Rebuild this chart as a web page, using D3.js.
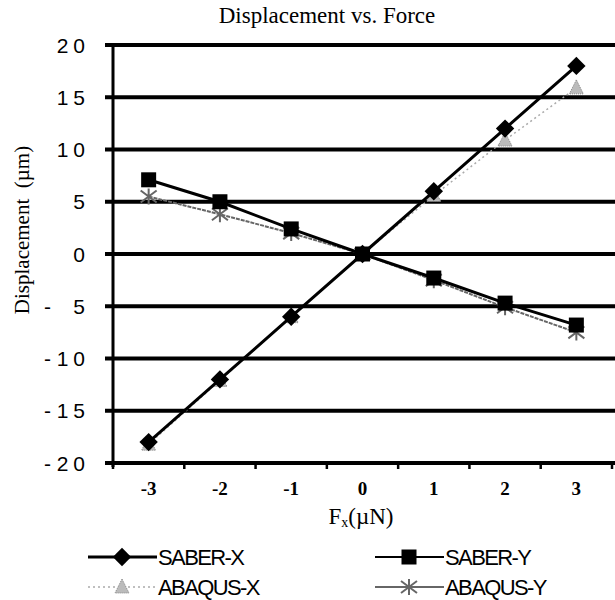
<!DOCTYPE html>
<html><head><meta charset="utf-8">
<script src="https://cdn.jsdelivr.net/npm/d3@7"></script>
<style>body{margin:0;background:#fff}</style>
</head><body>
<script>
const categories = ["-3","-2","-1","0","1","2","3"];
const saberX  = [-18, -12, -6, 0, 6, 12, 18];
const saberY  = [7.1, 5, 2.4, 0, -2.3, -4.7, -6.8];
const abaqusX = [-18.2, -12.1, -6, 0, 5.6, 10.9, 15.9];
const abaqusY = [5.5, 3.8, 2, 0, -2.5, -5.1, -7.5];
const yTicks = [20, 15, 10, 5, 0, -5, -10, -15, -20];
const seriesNames = ["SABER-X", "SABER-Y", "ABAQUS-X", "ABAQUS-Y"];

(function(){
const W = 615, H = 600;
const svg = d3.select("body").append("svg").attr("width", W).attr("height", H);
const pL = 113, pR = 612, pT = 45, pB = 463;

const x = d3.scaleBand().domain(categories).range([pL, pR]);
const y = d3.scaleLinear().domain([-20, 20]).range([pB, pT]);

svg.append("g").selectAll("line").data(yTicks).join("line")
  .attr("x1", 105).attr("x2", W).attr("y1", d => y(d)).attr("y2", d => y(d))
  .attr("stroke", "#000").attr("stroke-width", 4);

svg.append("line").attr("x1", pL).attr("x2", pL).attr("y1", pT).attr("y2", pB + 4)
  .attr("stroke", "#000").attr("stroke-width", 3);

const xt = categories.map(c => x(c)).concat([x(categories[categories.length-1]) + x.bandwidth()]);
svg.append("g").selectAll("line").data(xt).join("line")
  .attr("x1", d => d).attr("x2", d => d).attr("y1", pB).attr("y2", pB + 6)
  .attr("stroke", "#000").attr("stroke-width", 2.5);

const yl = svg.append("g").selectAll("g").data(yTicks).join("g")
  .attr("font-family", "Liberation Sans, Arial, sans-serif").attr("font-size", 21);
yl.append("text")
  .attr("x", 90).attr("y", d => y(d)).attr("dy", "0.36em")
  .attr("text-anchor", "end")
  .attr("letter-spacing", "5px")
  .text(d => String(Math.abs(d)));
yl.filter(d => d < 0).append("text")
  .attr("x", 44).attr("y", d => y(d)).attr("dy", "0.36em")
  .text("-");

svg.append("g").selectAll("text").data(categories).join("text")
  .attr("x", d => x(d) + x.bandwidth() / 2).attr("y", 495)
  .attr("text-anchor", "middle")
  .attr("font-family", "Liberation Serif, Times New Roman, serif").attr("font-size", 19).attr("font-weight", "bold")
  .text(d => d);

svg.append("text").attr("x", 327).attr("y", 23).attr("text-anchor", "middle")
  .attr("font-family", "Liberation Serif, Times New Roman, serif").attr("font-size", 23)
  .text("Displacement vs. Force");

svg.append("text").attr("transform", "translate(29,230) rotate(-90)")
  .attr("text-anchor", "middle")
  .attr("font-family", "Liberation Serif, Times New Roman, serif").attr("font-size", 21)
  .style("white-space", "pre")
  .text("Displacement  (\u00b5m)");

const xtitle = svg.append("text").attr("x", 361).attr("y", 524).attr("text-anchor", "middle")
  .attr("font-family", "Liberation Serif, Times New Roman, serif").attr("font-size", 23);
xtitle.append("tspan").text("F");
xtitle.append("tspan").attr("font-size", 14).attr("dy", 3).text("x");
xtitle.append("tspan").attr("dy", -3).text("(\u00b5N)");

const cx = (i) => x(categories[i]) + x.bandwidth() / 2;
const line = d3.line().x((d, i) => cx(i)).y(d => y(d));

const styles = [
  {data: saberX, color: "#000", width: 3, lw: 3, dash: null, marker: "diamond"},
  {data: saberY, color: "#000", width: 3, lw: 2, dash: null, marker: "square"},
  {data: abaqusX, color: "#aaa", width: 1.5, lw: 1.5, dash: "2,3", marker: "triangle"},
  {data: abaqusY, color: "#666", width: 2, lw: 1.5, dash: "4,1", marker: "x"}
];

function drawMarker(g, type, px, py) {
  if (type === "diamond") {
    g.append("rect").attr("x", -6.5).attr("y", -6.5).attr("width", 13).attr("height", 13)
      .attr("transform", `translate(${px},${py}) rotate(45)`).attr("fill", "#000");
  } else if (type === "square") {
    g.append("rect").attr("x", px - 7.5).attr("y", py - 7.5).attr("width", 15).attr("height", 15).attr("fill", "#000");
  } else if (type === "triangle") {
    g.append("path").attr("d", `M${px},${py-8}L${px+7},${py+6}L${px-7},${py+6}Z`)
      .attr("fill", "#bbb").attr("stroke", "#888").attr("stroke-width", 1).attr("stroke-dasharray", "1,1");
  } else if (type === "x") {
    g.append("path").attr("d", `M${px-8},${py-6}L${px+8},${py+6}M${px+8},${py-6}L${px-8},${py+6}M${px},${py-8}L${px},${py+8}`)
      .attr("stroke", "#666").attr("stroke-width", 2).attr("fill", "none");
  }
}

[2, 3, 0, 1].forEach(si => {
  const s = styles[si];
  const g = svg.append("g");
  g.append("path").datum(s.data).attr("d", line).attr("fill", "none")
    .attr("stroke", s.color).attr("stroke-width", s.width)
    .attr("stroke-dasharray", s.dash);
  s.data.forEach((v, i) => drawMarker(g, s.marker, cx(i), y(v)));
});

const legPos = [[88, 557], [375, 557], [88, 587], [375, 587]];
seriesNames.forEach((name, si) => {
  const s = styles[si];
  const [lx, ly] = legPos[si];
  const g = svg.append("g");
  g.append("line").attr("x1", lx).attr("x2", lx + 69).attr("y1", ly).attr("y2", ly)
    .attr("stroke", si === 3 ? "#333" : s.color).attr("stroke-width", s.lw)
    .attr("stroke-dasharray", si === 3 ? null : s.dash);
  drawMarker(g, s.marker, lx + 34, ly);
  g.append("text").attr("x", lx + 70).attr("y", ly).attr("dy", "0.36em")
    .attr("font-family", "Liberation Sans, Arial, sans-serif").attr("font-size", 22)
    .attr("letter-spacing", "-1.6px")
    .text(name);
});
})();
</script>
</body></html>
